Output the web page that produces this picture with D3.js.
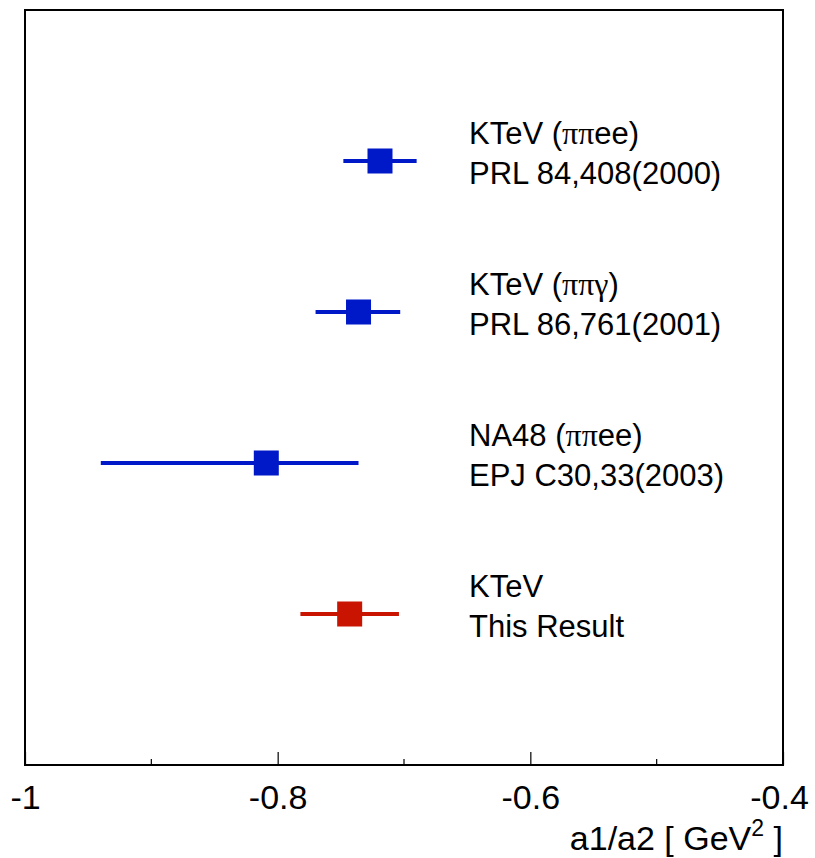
<!DOCTYPE html>
<html>
<head>
<meta charset="utf-8">
<script src="https://cdn.jsdelivr.net/npm/d3@7"></script>
<style>
  body { margin: 0; background: #fff; }
  svg text { font-family: "Liberation Sans", Arial, sans-serif; }
  .greek { font-family: "Liberation Serif", "Times New Roman", serif; }
</style>
</head>
<body>
<div id="chart"></div>
<script>
// measurements, top to bottom
const labels1 = ["KTeV (\u03c0\u03c0ee)", "KTeV (\u03c0\u03c0\u03b3)", "NA48 (\u03c0\u03c0ee)", "KTeV"];
const labels2 = ["PRL 84,408(2000)", "PRL 86,761(2001)", "EPJ C30,33(2003)", "This Result"];
const centers = [-0.719, -0.736, -0.809, -0.743];
const lowEdges = [-0.748, -0.770, -0.940, -0.782];
const highEdges = [-0.690, -0.703, -0.736, -0.704];
const rowPos = [4, 3, 2, 1];
const colors = ["#0019c8", "#0019c8", "#0019c8", "#c81400"];
const majorTicks = [-1, -0.8, -0.6, -0.4];
const minorTicks = [-0.9, -0.7, -0.5];

const width = 815, height = 858;
const margin = {left: 25, right: 32, top: 10, bottom: 93};

const svg = d3.select('#chart')
  .append('svg')
  .attr('width', width)
  .attr('height', height);

const x = d3.scaleLinear()
  .domain([-1, -0.4])
  .range([margin.left, width - margin.right]);

const y = d3.scaleLinear()
  .domain([0, 5])
  .range([height - margin.bottom, margin.top]);

// axis ticks
const xAxis = d3.axisBottom(x)
  .tickValues(majorTicks)
  .tickSize(-13)
  .tickFormat(d => d === -1 ? '-1' : d3.format('.1f')(d).replace('\u2212', '-'));

const ax = svg.append('g')
  .attr('transform', `translate(0, ${height - margin.bottom})`)
  .call(xAxis);
ax.select('.domain').remove();
ax.selectAll('line').attr('stroke', '#000').attr('stroke-width', 1.2);
ax.selectAll('text')
  .attr('y', 44)
  .attr('dy', 0)
  .attr('font-size', 34)
  .attr('fill', '#000');
ax.selectAll('.tick').filter(d => d === -1).select('text').attr('dx', 0);
ax.selectAll('.tick').filter(d => d === -0.4).select('text').attr('dx', -4);

svg.append('g')
  .selectAll('line')
  .data(minorTicks)
  .enter()
  .append('line')
  .attr('x1', d => x(d))
  .attr('x2', d => x(d))
  .attr('y1', height - margin.bottom)
  .attr('y2', height - margin.bottom - 6)
  .attr('stroke', '#000')
  .attr('stroke-width', 1.2);

// frame
svg.append('rect')
  .attr('x', margin.left)
  .attr('y', margin.top)
  .attr('width', width - margin.left - margin.right)
  .attr('height', height - margin.top - margin.bottom)
  .attr('fill', 'none')
  .attr('stroke', '#000')
  .attr('stroke-width', 2);

// error bars
const rows = svg.append('g')
  .selectAll('g')
  .data(centers)
  .enter()
  .append('g');

rows.append('line')
  .attr('x1', (d, i) => x(lowEdges[i]))
  .attr('x2', (d, i) => x(highEdges[i]))
  .attr('y1', (d, i) => y(rowPos[i]))
  .attr('y2', (d, i) => y(rowPos[i]))
  .attr('stroke', (d, i) => colors[i])
  .attr('stroke-width', 4);

const sq = 25;
rows.append('rect')
  .attr('x', d => x(d) - sq / 2)
  .attr('y', (d, i) => y(rowPos[i]) - sq / 2)
  .attr('width', sq)
  .attr('height', sq)
  .attr('fill', (d, i) => colors[i]);

// text labels
const textX = 469;
rows.each(function(d, i) {
  const g = d3.select(this);
  const t1 = g.append('text')
    .attr('x', textX)
    .attr('y', y(rowPos[i]) - 17)
    .attr('font-size', 31);
  const m = labels1[i].match(/^(.*\()(.*)(\))$/);
  if (m) {
    t1.append('tspan').text(m[1]);
    const greek = m[2].replace(/ee$/, '');
    t1.append('tspan').attr('class', 'greek').attr('font-size', 32).text(greek);
    if (m[2].endsWith('ee')) t1.append('tspan').text('ee');
    t1.append('tspan').text(m[3]);
  } else {
    t1.text(labels1[i]);
  }
  g.append('text')
    .attr('x', textX)
    .attr('y', y(rowPos[i]) + 23)
    .attr('font-size', 31)
    .text(labels2[i]);
});

// axis title
const title = svg.append('text')
  .attr('x', width - margin.right)
  .attr('y', 850)
  .attr('text-anchor', 'end')
  .attr('font-size', 34);
title.append('tspan').text('a1/a2 [ GeV');
title.append('tspan').attr('dy', -14).attr('font-size', 23).text('2');
title.append('tspan').attr('dy', 14).text(' ]');
</script>
</body>
</html>
